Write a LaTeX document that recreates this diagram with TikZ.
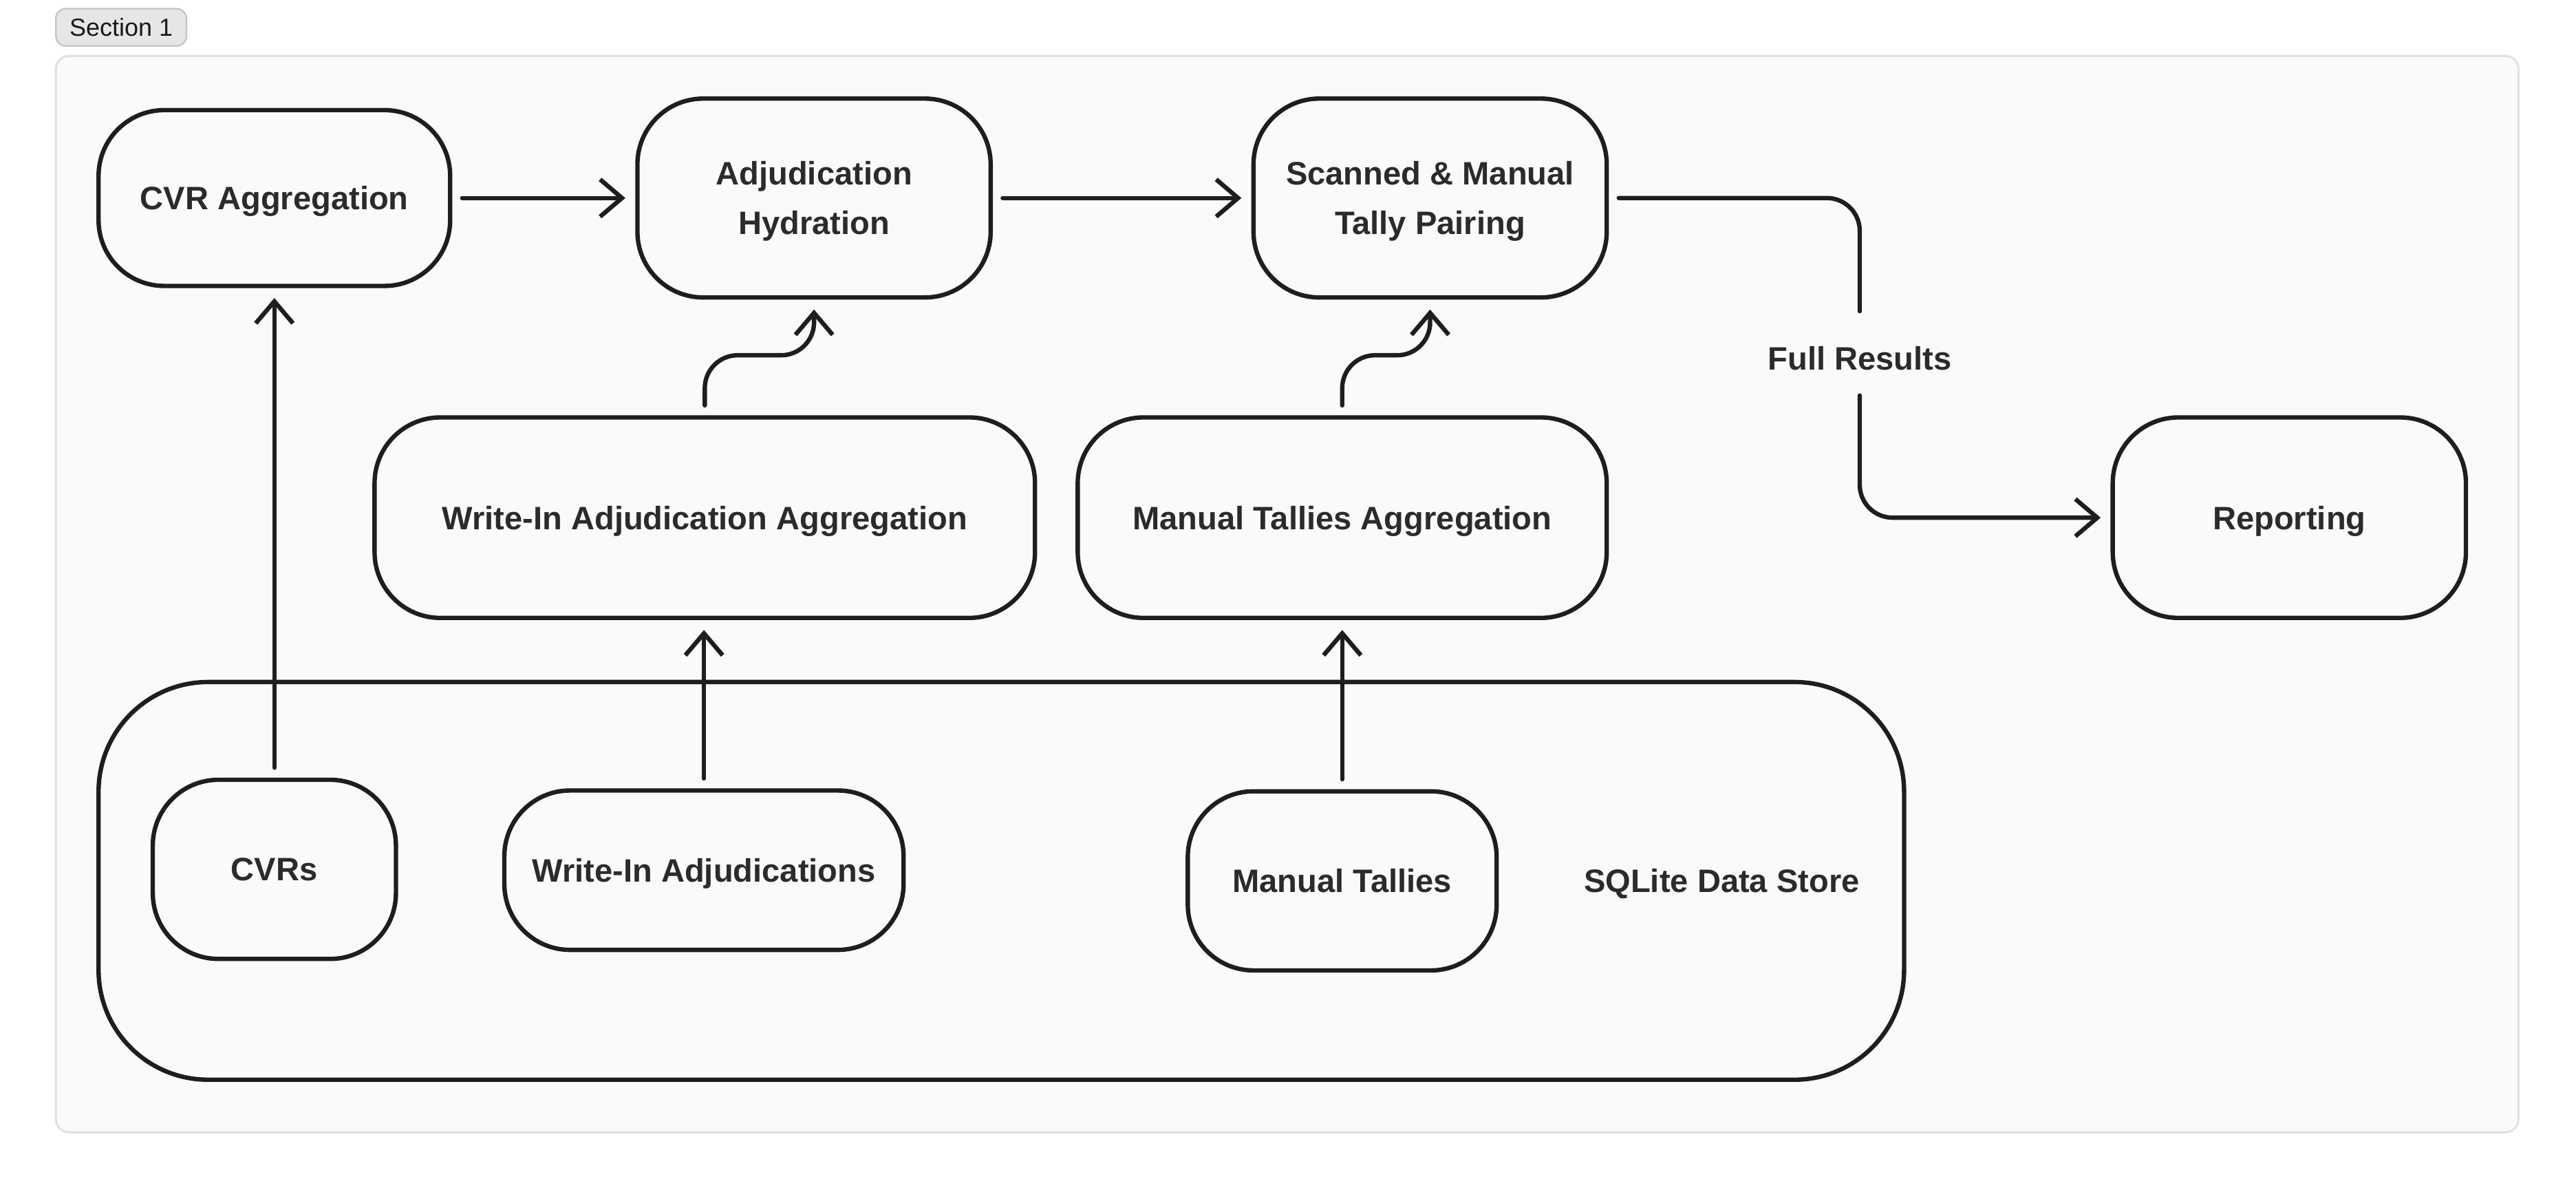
\documentclass[tikz,border=0pt]{standalone}
\usepackage{fontspec}
\setmainfont{Liberation Sans}
\usetikzlibrary{arrows.meta}

\definecolor{ink}{HTML}{1E1E1E}
\definecolor{txt}{HTML}{2B2B2B}
\definecolor{panel}{HTML}{FAFAFA}
\definecolor{panelline}{HTML}{E2E2E2}
\definecolor{tagfill}{HTML}{E6E6E6}
\definecolor{tagline}{HTML}{C6C6C6}

\tikzset{every picture/.style={line width=2pt}}

\begin{document}
\begin{tikzpicture}[x=0.75pt,y=0.75pt,yscale=-1,xscale=1,
    box/.style={draw=ink, line width=2pt, rounded corners=30pt, fill=panel, text=txt,
        font=\fontsize{14.8}{22.5}\selectfont\bfseries, align=center, inner sep=0pt, text depth=0pt},
    conn/.style={draw=ink, line width=2pt, line cap=round, line join=round,
        -{Straight Barb[length=10pt,width=17pt]}, shorten >=4.5pt, shorten <=4.5pt},
    lbl/.style={text=txt, font=\fontsize{14.8}{22.5}\selectfont\bfseries, inner sep=0pt, text depth=0pt}]
        \useasboundingbox (0,0) rectangle (1568,724);

        %Section panel
        \draw[panelline, fill=panel, line width=1pt, rounded corners=6pt] (34,34) rectangle (1533,689);
        \node (tag) [draw=tagline, fill=tagfill, line width=0.75pt, rounded corners=4.5pt,
            minimum width=59.6pt, minimum height=17pt, inner sep=0pt, text depth=0pt,
            font=\fontsize{11.3}{13}\selectfont, text=black!90] at (73.75,16.6) {Section 1};

        %Data store
        \node (store) [box, rounded corners=50pt, minimum width=824.25pt, minimum height=181.5pt] at (609.5,536) {};
        \node (storelbl) [lbl] at (1048,536) {SQLite Data Store};
        \node (cvrs) [box, minimum width=111pt, minimum height=81.75pt] at (167,529) {CVRs};
        \node (wiadj) [box, minimum width=182.25pt, minimum height=72.75pt] at (428.5,529.5) {Write-In Adjudications};
        \node (mtallies) [box, minimum width=141pt, minimum height=81.75pt] at (817,536) {Manual Tallies};

        %Aggregation row
        \node (wiagg) [box, minimum width=301.5pt, minimum height=91.5pt] at (429,315) {Write-In Adjudication Aggregation};
        \node (mtagg) [box, minimum width=241.5pt, minimum height=91.5pt] at (817,315) {Manual Tallies Aggregation};
        \node (reporting) [box, minimum width=161.25pt, minimum height=91.5pt] at (1393.5,315) {Reporting};

        %Top row
        \node (cvragg) [box, minimum width=160.5pt, minimum height=80.25pt] at (167,120.5) {CVR Aggregation};
        \node (adjhyd) [box, minimum width=161.25pt, minimum height=90.75pt] at (495.5,120.5) {Adjudication\\Hydration};
        \node (pairing) [box, minimum width=161.25pt, minimum height=90.75pt] at (870.5,120.5) {Scanned \& Manual\\Tally Pairing};

        %Label on the results connector
        \node (fullres) [lbl, minimum height=32pt] at (1132,218) {Full Results};

        %Connectors
        \draw[conn] (cvragg) -- (adjhyd);
        \draw[conn] (adjhyd) -- (pairing);
        \draw[conn] (cvrs.north) -- (cvragg.south);
        \draw[conn] (wiadj.north) -- (wiadj.north |- wiagg.south);
        \draw[conn] (mtallies.north) -- (mtagg.south);
        \draw[conn, rounded corners=15pt] (wiagg.north) -- ++(0,-36.5) -| (adjhyd.south);
        \draw[conn, rounded corners=15pt] (mtagg.north) -- ++(0,-36.5) -| (pairing.south);
        \draw[conn, -, rounded corners=15pt] (pairing.east) -| (fullres.north);
        \draw[conn, shorten <=0pt, rounded corners=15pt] (fullres.south) |- (reporting.west);

\end{tikzpicture}
\end{document}
